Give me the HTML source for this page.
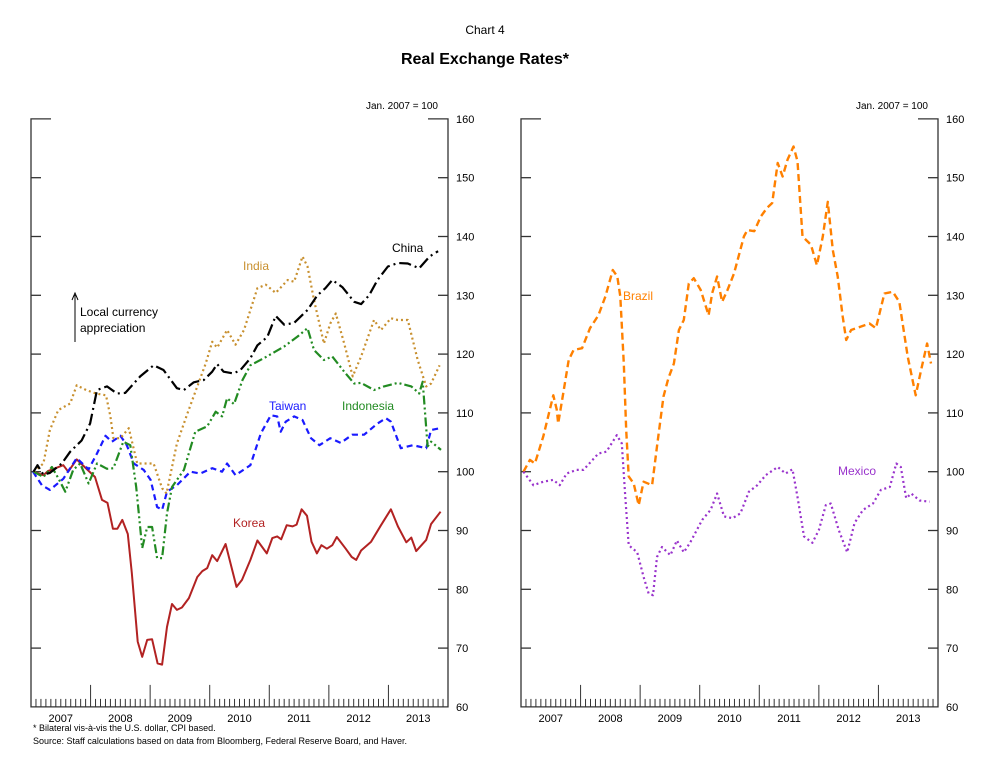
<!DOCTYPE html>
<html><head><meta charset="utf-8">
<style>
html,body{margin:0;padding:0;background:#fff;}
body{width:1000px;height:769px;overflow:hidden;font-family:"Liberation Sans",Arial,sans-serif;}
svg text{font-family:"Liberation Sans",Arial,sans-serif;}
</style></head>
<body>
<svg id="chart" width="1000" height="769" viewBox="0 0 1000 769" xmlns="http://www.w3.org/2000/svg">
<text x="485" y="34" font-size="12" text-anchor="middle">Chart 4</text>
<text x="485" y="64" font-size="16" font-weight="bold" text-anchor="middle">Real Exchange Rates*</text>
<g id="left"></g>
<g id="right"></g>
<text x="33" y="731" font-size="9">* Bilateral vis-à-vis the U.S. dollar, CPI based.</text>
<text x="33" y="744" font-size="9">Source: Staff calculations based on data from Bloomberg, Federal Reserve Board, and Haver.</text>
</svg>
<script>
// ---- data (months since Jan 2007, index values Jan 2007 = 100) ----
const years = ["2007","2008","2009","2010","2011","2012","2013"];
const yTicks = [60,70,80,90,100,110,120,130,140,150,160];

const koreaMonths = [0.4,2.5,3.4,6.5,7.5,9.2,12.9,14.3,15.4,16.5,17.4,18.4,19.5,20.3,21.5,22.4,23.4,24.4,25.5,26.4,27.4,28.4,29.4,30.4,31.8,33.5,34.5,35.5,36.5,37.5,39.2,41.4,42.5,44.2,45.6,47.5,48.6,49.6,50.4,51.5,52.7,53.5,54.5,55.6,56.5,57.6,58.5,59.6,60.7,61.6,63.4,64.6,65.5,66.5,68.5,70.5,72.5,73.9,75.6,76.6,77.6,79.6,80.6,82.5];
const koreaValues = [100,99.4,100.1,101.1,100,102.1,99.1,95.2,94.7,90.3,90.3,91.8,89.4,82.8,71.1,68.5,71.4,71.5,67.4,67.2,73.6,77.5,76.5,76.9,78.5,82.1,83.1,83.6,85.8,84.8,87.7,80.4,81.6,85.0,88.3,86.1,88.7,89.0,88.5,90.9,90.7,91.0,93.6,92.5,88.1,86.1,87.5,86.9,87.5,88.9,86.9,85.5,85.0,86.6,88.1,90.9,93.6,90.7,88.0,88.8,86.5,88.4,91.1,93.2];

const chinaMonths = [0.5,1.3,2.5,3.8,6.2,7.9,10.2,11.9,13.3,15.3,17.3,19,22,24.7,26.7,29.4,30.8,32.8,34.8,36.5,37.5,38.8,40.8,42.2,44.2,45.6,47.6,49.3,51,53,55.7,57.7,59.3,60.7,62.7,65.1,66.5,68.1,69.8,71.9,73.9,75.9,78.2,80.3,82];
const chinaValues = [100,101.1,99.5,99.8,101.4,103.4,105.3,108.2,113.9,114.5,113.3,113.4,116.2,118.1,117.3,114.2,113.9,115.2,115.6,117,118.3,117,116.7,117.3,119.3,121.5,122.9,126.5,125,125.3,127.5,130.0,131.2,132.6,131.4,128.9,128.5,130.0,132.6,134.9,135.5,135.4,134.6,136.6,137.5];

const indiaMonths = [0.5,2.5,3.8,5.5,7.9,9.2,11.1,13.1,15.1,16,16.6,18,19.7,21.4,23,24.7,26.4,27.3,29.4,31.5,33.5,35.2,36.5,37.5,39.5,41.2,42.9,44.2,45.6,47.3,49.3,51.7,53,54.7,55.7,57,59,60.3,61.4,63.1,64.8,66.5,69.1,70.5,72.5,73.9,75.9,77.9,79.6,80.6,82.3];
const indiaValues = [100,101.4,107.1,110.5,111.6,114.7,113.9,113.3,113,109.4,105.7,105.7,107.4,101.4,101.4,101.4,97.2,96.3,104.8,109.9,114.5,118.4,122.1,121.1,124.1,121.6,124.1,127.5,131.2,131.8,130.4,132.6,132.3,136.6,134.9,129.2,121.8,125.2,126.9,121.8,116.2,119.6,125.8,124.1,126.1,125.8,125.8,119,114.5,115,118.1];

const indonesiaMonths = [0.5,2.5,4.2,5.5,6.9,8.5,9.9,11.6,13.3,15.3,16.6,18.6,20,21.2,22.4,23.4,24.4,25.4,26.4,27.4,28.4,30.8,33.1,35.5,37.2,38.5,39.5,40.9,42.6,44.2,46.9,51,53.7,55.7,57,59,60.7,63.1,65.1,66.5,69.1,71.1,73.9,76.6,78.2,78.9,79.9,80.6,82.6];
const indonesiaValues = [100,99.1,100.8,98.9,96.6,100.3,101.4,98.0,101.4,100.5,100.6,105.1,104.5,97.4,87,90.6,90.6,85.3,85.3,92.9,97.4,100.3,106.8,107.7,110.2,109.4,112.5,111.5,115.6,118.1,119.3,121.3,123,124.4,120.7,119,119.6,117,115,115.1,113.9,114.5,115.1,114.5,113.3,115.3,104.3,105.1,103.7];

const taiwanMonths = [0.4,2.2,3.8,6.5,9.2,11.6,13.3,15,16.3,18,19.3,20.7,22.7,24.1,25.4,26.4,27.4,29.4,32.1,34.1,36.5,38.5,39.5,41.2,44.2,46.3,48.3,49.6,50.3,51.3,53,54.7,56.4,58.1,60.3,62.4,64.7,67.1,69.8,71.5,72.5,74.5,76.9,79.6,80.6,82.3];
const taiwanValues = [100,97.7,96.9,98.8,102.3,100.4,103.1,106.1,105.1,106.1,104.5,101.4,100.3,98.6,94,93.5,96.6,97.7,100,99.7,100.6,100,101.4,99.4,101.1,106.5,109.6,109.4,106.8,108.5,109.4,108.8,105.7,104.5,105.7,104.9,106.3,106.3,108.2,109.1,108.5,104,104.5,104,107.1,107.4];

const brazilMonths = [0.5,1.8,2.8,4.5,6.5,7.2,7.5,8.5,9.6,10.6,12.3,13.9,15.6,17,18.5,19.4,20,20.7,21.2,21.7,22.7,23.7,24.7,26.4,27.4,28.7,29.7,30.8,31.8,32.8,33.8,34.8,36.2,37.8,38.5,39.5,40.5,41.6,42.9,44.9,45.6,47,48.3,49.6,50.6,51.7,52.7,53.7,54.9,55.7,56.7,58.4,59.6,60.8,61.8,62.8,63.8,64.8,65.5,66.5,68.5,70.2,71.5,73.2,74.9,76.2,77.9,79.5,80.6,81.8,82.6];
const brazilValues = [100,102,101.4,106,113.0,110.6,108.2,113.3,119,120.7,121,124.4,126.6,129.8,134.3,133.2,129.8,118.4,107.1,99.2,98.0,94.3,98.3,97.7,104.3,112.8,115.9,118.4,124.1,125.8,132.0,132.9,130.9,126.6,130.3,133.2,128.9,130.9,133.7,140.0,141.1,140.9,143.4,144.9,145.7,152.5,150.2,153.1,155.3,152.8,140.0,138.6,135.1,140,145.9,137.7,133.2,126.4,122.4,124.1,124.7,125.2,124.4,130.3,130.6,128.9,119.6,113.0,117.3,121.8,118.4];

const mexicoMonths = [0.5,2.5,4.5,6.5,7.8,9.2,11.2,12.6,15.6,17.2,19.3,20.3,21,21.7,23.4,24.7,25.7,26.6,27.4,28.4,30.1,31.4,32.8,34.1,36.5,38.2,39.5,40.9,42.6,44.2,45.9,47.6,49.3,51.7,53.3,54.7,55.7,57,58.7,60,61.4,62.4,64,65.7,67.2,68.9,70.9,72.5,74.3,75.6,76.5,77.6,78.6,80.3,82.3];
const mexicoValues = [100,97.7,98.3,98.6,97.7,99.7,100.3,100.3,103.1,103.4,106.2,104.8,95.7,87.5,86.3,82.1,79.3,79.0,85.5,87.2,85.8,88.3,86.3,88.0,91.8,93.5,96.3,92.4,92.1,92.9,96.6,97.7,99.4,100.8,99.7,100.4,95.7,89,87.9,90.1,94.3,94.6,90.1,86.3,91.3,93.5,94.6,96.9,97.4,101.4,100.8,95.5,96.3,95.1,94.9];

// ---- layout ----
const NS = "http://www.w3.org/2000/svg";
const Y0 = 118.9, Y1 = 706.9, VMIN = 60, VMAX = 160, NMONTHS = 84;
function yScale(v){ return Y1 - (v - VMIN) / (VMAX - VMIN) * (Y1 - Y0); }
function makeX(x0, x1){ return m => x0 + m / NMONTHS * (x1 - x0); }
function el(tag, attrs, parent){
  const e = document.createElementNS(NS, tag);
  for (const k in attrs) e.setAttribute(k, attrs[k]);
  parent.appendChild(e); return e;
}

function drawAxes(g, x0, x1, prefix){
  const xs = makeX(x0, x1);
  const frame = el("path", {d:`M${x0+20},${Y0} H${x0} V${Y1} H${x1} V${Y0} H${x1-20}`, fill:"none", stroke:"#333", "stroke-width":1.3}, g);
  
  
  for (let m = 1; m < NMONTHS; m++){
    const major = m % 12 === 0;
    const t = el("line", {x1:xs(m), x2:xs(m), y1:Y1, y2:Y1 - (major ? 22 : 8), stroke:"#333", "stroke-width":1}, g);
    
    
  }
  years.forEach((yr, i) => {
    const t = el("text", {x:xs(i*12+6), y:Y1+15, "font-size":11, "text-anchor":"middle"}, g);
    t.textContent = yr;
    
    
  });
  yTicks.forEach(v => {
    const y = yScale(v);
    if (v !== VMIN && v !== VMAX){
      const a = el("line", {x1:x0, x2:x0+10, y1:y, y2:y, stroke:"#333", "stroke-width":1.3}, g);
      
      
      const b = el("line", {x1:x1-10, x2:x1, y1:y, y2:y, stroke:"#333", "stroke-width":1.3}, g);
      
      
    }
    const t = el("text", {x:x1+8, y:y+4, "font-size":11}, g);
    t.textContent = v;
    
    
  });
  const u = el("text", {x:x1-10, y:Y0-10, "font-size":10, "text-anchor":"end"}, g);
  u.textContent = "Jan. 2007 = 100";
  
  
  return xs;
}

function drawSeries(g, xs, months, values, color, dash, width, name){
  const d = months.map((m,i) => (i ? "L" : "M") + xs(m).toFixed(1) + "," + yScale(values[i]).toFixed(1)).join(" ");
  const p = el("path", {d:d, fill:"none", stroke:color, "stroke-width":width, "stroke-dasharray":dash, "stroke-linejoin":"round"}, g);
  
  
}
function label(g, x, y, txt, color, name){
  const t = el("text", {x:x, y:y, "font-size":12, fill:color}, g);
  t.textContent = txt;
  
  
}

const L = document.getElementById("left"), R = document.getElementById("right");
const xl = drawAxes(L, 31, 448, "left");
const xr = drawAxes(R, 521, 938, "right");

drawSeries(L, xl, koreaMonths, koreaValues, "#b22222", "none", 2, "korea-line");
drawSeries(L, xl, taiwanMonths, taiwanValues, "#1a1aff", "6 4", 2.2, "taiwan-line");
drawSeries(L, xl, indonesiaMonths, indonesiaValues, "#228b22", "9 3 2 3 2 3", 2.2, "indonesia-line");
drawSeries(L, xl, indiaMonths, indiaValues, "#c8902f", "2 3", 2.2, "india-line");
drawSeries(L, xl, chinaMonths, chinaValues, "#000", "12 4 2 4", 2.2, "china-line");
drawSeries(R, xr, brazilMonths, brazilValues, "#ff8000", "7 4", 2.4, "brazil-line");
drawSeries(R, xr, mexicoMonths, mexicoValues, "#9933cc", "2 3", 2.2, "mexico-line");

label(L, 392, 252, "China", "#000", "china-label");
label(L, 243, 270, "India", "#c8902f", "india-label");
label(L, 269, 410, "Taiwan", "#1a1aff", "taiwan-label");
label(L, 342, 410, "Indonesia", "#228b22", "indonesia-label");
label(L, 233, 527, "Korea", "#b22222", "korea-label");
label(R, 623, 300, "Brazil", "#ff8000", "brazil-label");
label(R, 838, 475, "Mexico", "#9933cc", "mexico-label");

const arr = el("path", {d:"M75,342 V295 M72,300 L75,293 L78,300", fill:"none", stroke:"#000", "stroke-width":1}, L);


label(L, 80, 316, "Local currency", "#000", "appreciation-note-line1");
label(L, 80, 332, "appreciation", "#000", "appreciation-note-line2");
</script>
</body></html>
